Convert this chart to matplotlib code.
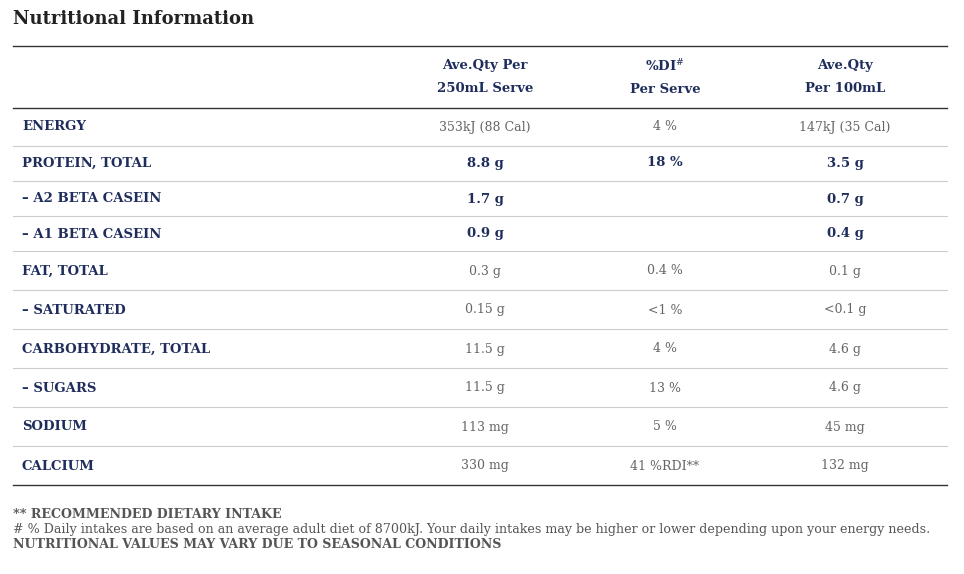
import matplotlib.pyplot as plt

# table data
row_labels = ['ENERGY', 'PROTEIN, TOTAL', '– A2 BETA CASEIN', '– A1 BETA CASEIN', 'FAT, TOTAL',
              '– SATURATED', 'CARBOHYDRATE, TOTAL', '– SUGARS', 'SODIUM', 'CALCIUM']
per_serve = ['353kJ (88 Cal)', '8.8 g', '1.7 g', '0.9 g', '0.3 g', '0.15 g', '11.5 g', '11.5 g', '113 mg', '330 mg']
pct_di = ['4 %', '18 %', '', '', '0.4 %', '<1 %', '4 %', '13 %', '5 %', '41 %RDI**']
per_100 = ['147kJ (35 Cal)', '3.5 g', '0.7 g', '0.4 g', '0.1 g', '<0.1 g', '4.6 g', '4.6 g', '45 mg', '132 mg']
bold_rows = [1, 2, 3]
col_heads = ['Ave.Qty Per\n250mL Serve', '%DI$^{\\#}$\nPer Serve', 'Ave.Qty\nPer 100mL']
footnotes = ['** RECOMMENDED DIETARY INTAKE',
             '# % Daily intakes are based on an average adult diet of 8700kJ. Your daily intakes may be higher or lower depending upon your energy needs.',
             'NUTRITIONAL VALUES MAY VARY DUE TO SEASONAL CONDITIONS']
foot_bold = [True, False, True]

W, H = 964, 574
navy = '#1f2d5c'
gray = '#666666'
plt.rcParams['font.family'] = ['DejaVu Serif']

fig = plt.figure(figsize=(W / 100, H / 100), dpi=100)
ax = fig.add_axes([0, 0, 1, 1])
ax.set_xlim(0, W)
ax.set_ylim(H, 0)
ax.axis('off')

ax.text(13, 19, 'Nutritional Information', fontsize=13, fontweight='bold', color='#222222', va='center')

col_x = [485, 665, 845]
ax.plot([13, 947], [46, 46], color='#333333', lw=1)
for x, h in zip(col_x, col_heads):
    ax.text(x, 77, h, ha='center', va='center', fontsize=9.5, color=navy, fontweight='bold', linespacing=1.9)
ax.plot([13, 947], [108, 108], color='#333333', lw=1)

row_y = [127, 163, 199, 234, 271, 310, 349, 388, 427, 466]
sep_y = [146, 181, 216, 251, 290, 329, 368, 407, 446]
for y in sep_y:
    ax.plot([13, 947], [y, y], color='#cccccc', lw=0.8)
ax.plot([13, 947], [485, 485], color='#333333', lw=1)

for i, y in enumerate(row_y):
    ax.text(22, y, row_labels[i], fontsize=9.5, fontweight='bold', color=navy, va='center')
    b = i in bold_rows
    for x, v in zip(col_x, [per_serve[i], pct_di[i], per_100[i]]):
        ax.text(x, y, v, ha='center', va='center', fontsize=9.5 if b else 9,
                fontweight='bold' if b else 'normal', color=navy if b else gray)

for y, t, fb in zip([514, 530, 545], footnotes, foot_bold):
    ax.text(13, y, t, fontsize=9.1, color='#555555', va='center', fontweight='bold' if fb else 'normal')

fig.savefig('out.png', dpi=100, facecolor='white')
